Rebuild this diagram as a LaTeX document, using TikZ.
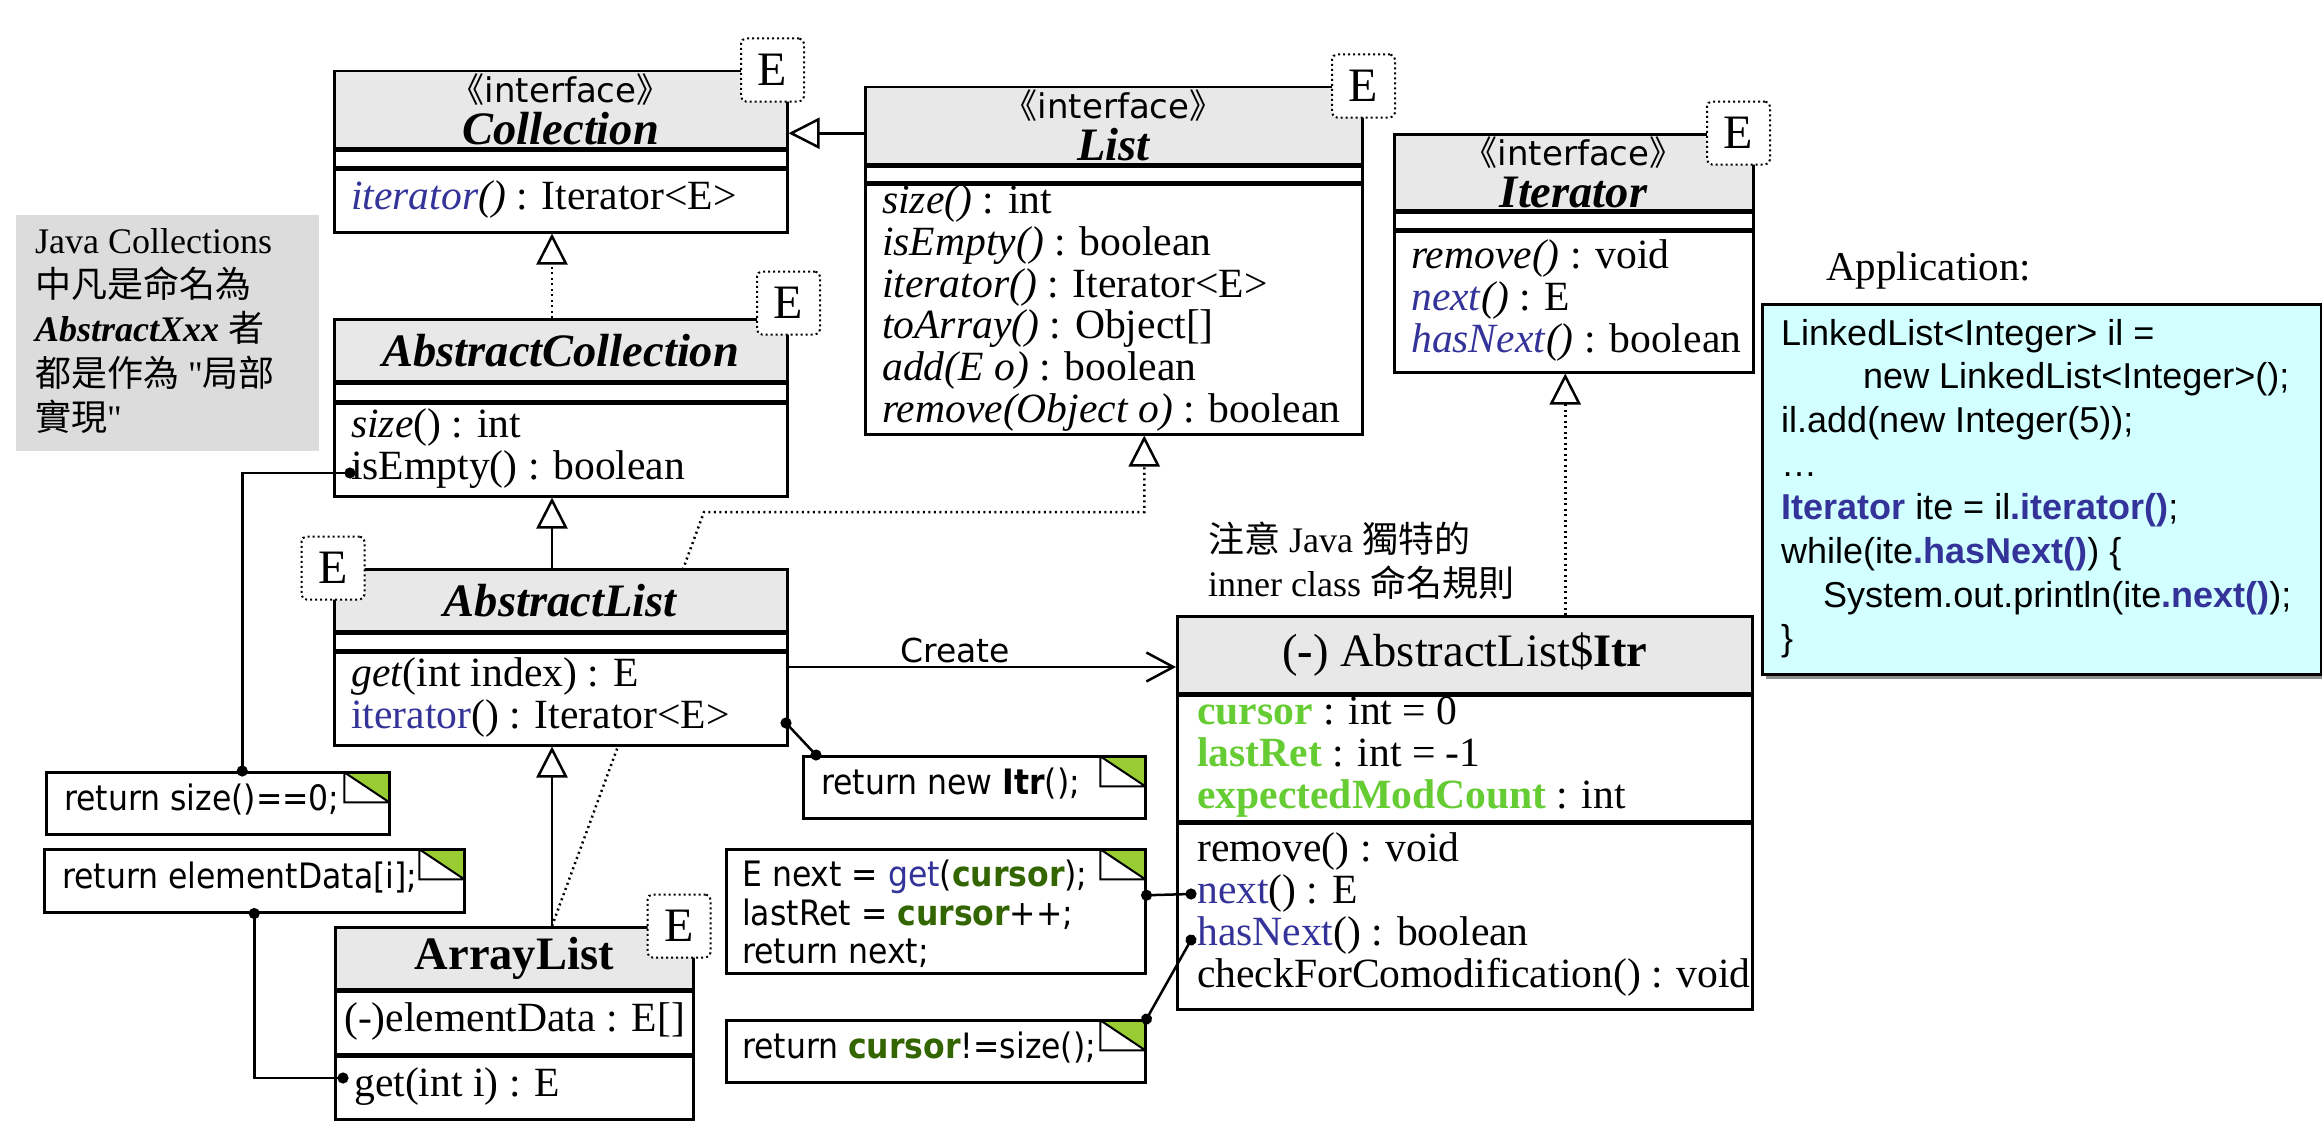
\documentclass[tikz,border=0pt]{standalone}
\usepackage{fontspec}
\setmainfont{Liberation Serif}
\newfontfamily\cjk{Noto Sans CJK TC}
\newfontfamily\codeface{DejaVu Sans Condensed}
\newfontfamily\sansface{DejaVu Sans}
\newfontfamily\appface{Liberation Sans}
\usetikzlibrary{arrows.meta,positioning,shadows,backgrounds}

\definecolor{hdrgray}{RGB}{232,232,232}
\definecolor{notegray}{RGB}{220,220,220}
\definecolor{opblue}{RGB}{51,51,153}
\definecolor{attgreen}{RGB}{102,204,51}
\definecolor{codegreen}{RGB}{51,102,0}
\definecolor{foldgreen}{RGB}{153,204,51}
\definecolor{appcyan}{RGB}{210,255,255}

\newcommand\rowfont{\fontsize{41.6}{40}\selectfont}
\newcommand\namefont{\fontsize{46.5}{42}\selectfont}
\newcommand\tagfont{\fontsize{48}{48}\selectfont}
\newcommand\codefont{\codeface\fontsize{35}{37.5}\selectfont}
\newcommand\notefont{\fontsize{36}{43}\selectfont}
\newcommand\appfont{\appface\fontsize{36}{43.7}\selectfont}
\newcommand\lblfont{\fontsize{41}{41}\selectfont}
\newcommand\createfont{\sansface\fontsize{33}{33}\selectfont}
\newcommand\stereo{{\sansface\fontsize{34}{34}\selectfont{\cjk 《}interface{\cjk 》}}}

\begin{document}
\begin{tikzpicture}[x=1pt,y=-1pt]

\tikzstyle{umlbox} = [draw, line width=2.5pt, fill=white, inner sep=0, anchor=north west]%
\tikzstyle{umlhead} = [umlbox, fill=hdrgray, align=center, font=\namefont]%
\tikzstyle{umltext} = [anchor=west, inner sep=0, align=left, font=\rowfont]%
\tikzstyle{etag} = [draw, line width=2pt, dash pattern=on 2pt off 3pt, rounded corners=5pt, fill=white, inner sep=0, minimum width=63pt, minimum height=63pt, font=\tagfont]%
\tikzstyle{codenote} = [umlbox, path picture={
    \coordinate (ne) at (path picture bounding box.north east);
    \fill[foldgreen] ([xshift=-45pt]ne) -- (ne) -- ([yshift=-30pt]ne) -- cycle;
    \draw[line width=2pt] ([xshift=-45pt]ne) -- ([yshift=-30pt]ne) -| ([xshift=-45pt]ne);
  }]%
\tikzstyle{codetext} = [anchor=west, inner sep=0, align=left, font=\codefont]%
\tikzstyle{plaintext} = [inner sep=0, align=left, font=\notefont]%
\tikzstyle{gen} = [line width=2.5pt, -{Triangle[open, length=31pt, width=31pt]}]%
\tikzstyle{real} = [gen, dash pattern=on 2pt off 3.5pt]%
\tikzstyle{dotlink} = [line width=2.5pt, {Circle[length=11pt]}-{Circle[length=11pt]}, shorten <=-5.5pt, shorten >=-5.5pt]%
\tikzstyle{create} = [line width=2.5pt, -{Straight Barb[length=27pt, width=29pt]}]%

\useasboundingbox (0,0) rectangle (2322,1124);

% Collection
\node[umlhead, minimum width=453pt, minimum height=77pt] (coll) at (333,70) {\stereo\\\textbf{\textit{Collection}}};
\node[umlbox, minimum width=453pt, minimum height=16pt] (coll-at) at (coll.south west) {};
\node[umlbox, minimum width=453pt, minimum height=63pt] (coll-op) at (coll-at.south west) {};
\node[umltext] (coll-tx) at ([xshift=18pt]coll-op.west) {\strut{\color{opblue}\textit{iterator}}\textit{()} : Iterator<E>};
\node[etag] (coll-e) at ([xshift=-16pt]coll.north east) {E};

% List
\node[umlhead, minimum width=497pt, minimum height=77pt] (lst) at (864,86) {\stereo\\\textbf{\textit{List}}};
\node[umlbox, minimum width=497pt, minimum height=15.5pt] (lst-at) at (lst.south west) {};
\node[umlbox, minimum width=497pt, minimum height=249.5pt] (lst-op) at (lst-at.south west) {};
\node[umltext] (lst-tx) at ([xshift=18pt]lst-op.west) {\strut\textit{size()} : int\\
    \strut\textit{isEmpty()} : boolean\\
    \strut\textit{iterator()} : Iterator<E>\\
    \strut\textit{toArray()} : Object[]\\
    \strut\textit{add(E o)} : boolean\\
    \strut\textit{remove(Object o)} : boolean};
\node[etag] (lst-e) at (lst.north east) {E};

% Iterator
\node[umlhead, minimum width=359pt, minimum height=76pt] (ite) at (1393,133) {\stereo\\\textbf{\textit{Iterator}}};
\node[umlbox, minimum width=359pt, minimum height=16pt] (ite-at) at (ite.south west) {};
\node[umlbox, minimum width=359pt, minimum height=141pt] (ite-op) at (ite-at.south west) {};
\node[umltext] (ite-tx) at ([xshift=18pt]ite-op.west) {\strut\textit{remove()} : void\\
    \strut{\color{opblue}\textit{next}}\textit{()} : E\\
    \strut{\color{opblue}\textit{hasNext}}\textit{()} : boolean};
\node[etag] (ite-e) at ([xshift=-16pt]ite.north east) {E};

% AbstractCollection
\node[umlhead, minimum width=453pt, minimum height=62pt] (ac) at (333,318) {\textbf{\textit{AbstractCollection}}};
\node[umlbox, minimum width=453pt, minimum height=17pt] (ac-at) at (ac.south west) {};
\node[umlbox, minimum width=453pt, minimum height=93pt] (ac-op) at (ac-at.south west) {};
\node[umltext] (ac-tx) at ([xshift=18pt]ac-op.west) {\strut\textit{size}() : int\\
    \strut isEmpty() : boolean};
\node[etag] (ac-e) at ([yshift=15pt]ac.north east) {E};

% AbstractList
\node[umlhead, minimum width=453pt, minimum height=62pt] (al) at (333,568) {\textbf{\textit{AbstractList}}};
\node[umlbox, minimum width=453pt, minimum height=16pt] (al-at) at (al.south west) {};
\node[umlbox, minimum width=453pt, minimum height=93pt] (al-op) at (al-at.south west) {};
\node[umltext] (al-tx) at ([xshift=18pt]al-op.west) {\strut\textit{get}(int index) : E\\
    \strut{\color{opblue}iterator}() : Iterator<E>};
\node[etag] (al-e) at (al.north west) {E};

% ArrayList
\node[umlhead, minimum width=358pt, minimum height=62pt] (arr) at (334,926) {\textbf{ArrayList}};
\node[umlbox, minimum width=358pt, minimum height=62pt] (arr-at) at (arr.south west) {};
\node[umltext] (arr-attx) at ([xshift=10pt]arr-at.west) {\strut(-)elementData : E[]};
\node[umlbox, minimum width=358pt, minimum height=63pt] (arr-op) at (arr-at.south west) {};
\node[umltext] (arr-tx) at ([xshift=20pt]arr-op.west) {\strut get(int i) : E};
\node[etag] (arr-e) at ([xshift=-15.5pt]arr.north east) {E};

% AbstractList$Itr
\node[umlhead, minimum width=575pt, minimum height=77pt] (itr) at (1176,615) {(\textbf{-}) AbstractList\$\textbf{Itr}};
\node[umlbox, minimum width=575pt, minimum height=125pt] (itr-at) at (itr.south west) {};
\node[umltext] (itr-attx) at ([xshift=21pt]itr-at.west) {\strut{\color{attgreen}\textbf{cursor}} : int = 0\\
    \strut{\color{attgreen}\textbf{lastRet}} : int = -1\\
    \strut{\color{attgreen}\textbf{expectedModCount}} : int};
\node[umlbox, minimum width=575pt, minimum height=186pt] (itr-op) at (itr-at.south west) {};
\node[umltext] (itr-tx) at ([xshift=21pt]itr-op.west) {\strut remove() : void\\
    \strut{\color{opblue}next}() : E\\
    \strut{\color{opblue}hasNext}() : boolean\\
    \strut checkForComodification() : void};

% notes
\node[fill=notegray, anchor=north west, inner sep=0, minimum width=303pt, minimum height=236pt] (javanote) at (16,215) {};
\node[plaintext, anchor=west] (javanote-tx) at ([xshift=19pt]javanote.west) {\strut Java Collections\\
    \strut{\cjk 中凡是命名為}\\
    \strut\textbf{\textit{AbstractXxx}} {\cjk 者}\\
    \strut{\cjk 都是作為} \textquotedbl{\cjk 局部}\\
    \strut{\cjk 實現}\textquotedbl};
\node[plaintext, above right=5pt and 32pt of itr.north west] (itr-naming) {\strut{\cjk 注意} Java {\cjk 獨特的}\\
    \strut inner class {\cjk 命名規則}};

\node[codenote, minimum width=343pt, minimum height=62pt] (sizenote) at (45,771) {};
\node[codetext] (sizenote-tx) at ([xshift=19pt]sizenote.west) {\strut return size()==0;};
\node[codenote, minimum width=420pt, minimum height=63pt] (itemnote) at (43,848) {};
\node[codetext] (itemnote-tx) at ([xshift=19pt]itemnote.west) {\strut return elementData[i];};
\node[codenote, minimum width=342pt, minimum height=62pt] (newnote) at (802,755) {};
\node[codetext] (newnote-tx) at ([xshift=19pt]newnote.west) {\strut return new \textbf{Itr}();};
\node[codenote, minimum width=419pt, minimum height=124pt] (nextnote) at (725,848) {};
\node[codetext] (nextnote-tx) at ([xshift=17pt,yshift=-6pt]nextnote.west) {\strut E next = {\color{opblue}get}({\color{codegreen}\textbf{cursor}});\\
    \strut lastRet = {\color{codegreen}\textbf{cursor}}++;\\
    \strut return next;};
\node[codenote, minimum width=419pt, minimum height=62pt] (hasnote) at (725,1019) {};
\node[codetext] (hasnote-tx) at ([xshift=17pt]hasnote.west) {\strut return {\color{codegreen}\textbf{cursor}}!=size();};

% application
\node[umlbox, fill=appcyan, minimum width=559pt, minimum height=370pt, drop shadow={shadow xshift=4pt, shadow yshift=-5pt, fill=black!45, opacity=1}] (app) at (1761,303) {};
\node[anchor=west, inner sep=0, align=left, font=\appfont] (app-tx) at ([xshift=20pt]app.west) {\strut LinkedList<Integer> il =\\
    \strut\hspace*{82pt}new LinkedList<Integer>();\\
    \strut il.add(new Integer(5));\\
    \strut …\\
    \strut{\color{opblue}\textbf{Iterator}} ite = il{\color{opblue}\textbf{.iterator()}};\\
    \strut while(ite{\color{opblue}\textbf{.hasNext()}}) \{\\
    \strut\hspace*{42pt}System.out.println(ite{\color{opblue}\textbf{.next()}});\\
    \strut\}};
\node[inner sep=0, font=\lblfont, above right=14pt and 65pt of app.north west] (app-lbl) {Application:};

% connectors
\coordinate (spine) at (552,0);
\coordinate (lbend) at (704,512);
\coordinate (isempty-dot) at (350,473);
\coordinate (get-dot) at (343,1078);
\coordinate (iter-dot) at (786,723);
\coordinate (next-dot) at (1191,894);
\coordinate (hasnext-dot) at (1191,940);

\begin{pgfonlayer}{background}
\draw[real] (spine |- arr.north) -- (lbend) -| ([xshift=30.5pt]lst-op.south);
\end{pgfonlayer}

\draw[gen] ([yshift=-7.5pt]lst.west) -- ([yshift=-7.5pt]lst.west -| coll.east);
\draw[real] (spine |- ac.north) -- (spine |- coll-op.south);
\draw[gen] (spine |- al.north) -- (spine |- ac-op.south);
\draw[gen] (spine |- arr.north) -- (spine |- al-op.south);
\draw[real] ([xshift=-8.5pt]itr.north -| ite-op.south) -- ([xshift=-8.5pt]ite-op.south);

\draw[create] ([yshift=-16pt]al-op.north east) --
    node[pos=0.43, above=3pt, inner sep=0, font=\createfont] (create-lbl) {Create}
    ([yshift=-16pt]al-op.north east -| itr.west);

\draw[dotlink] (isempty-dot) -| ([xshift=24.5pt]sizenote.north);
\draw[dotlink] (itemnote.south) |- (get-dot);
\draw[dotlink] (iter-dot) -- ([xshift=14pt]newnote.north west);
\draw[dotlink] ([yshift=16pt]nextnote.east) -- (next-dot);
\draw[dotlink] (hasnext-dot) -- (hasnote.north east);

\end{tikzpicture}
\end{document}
